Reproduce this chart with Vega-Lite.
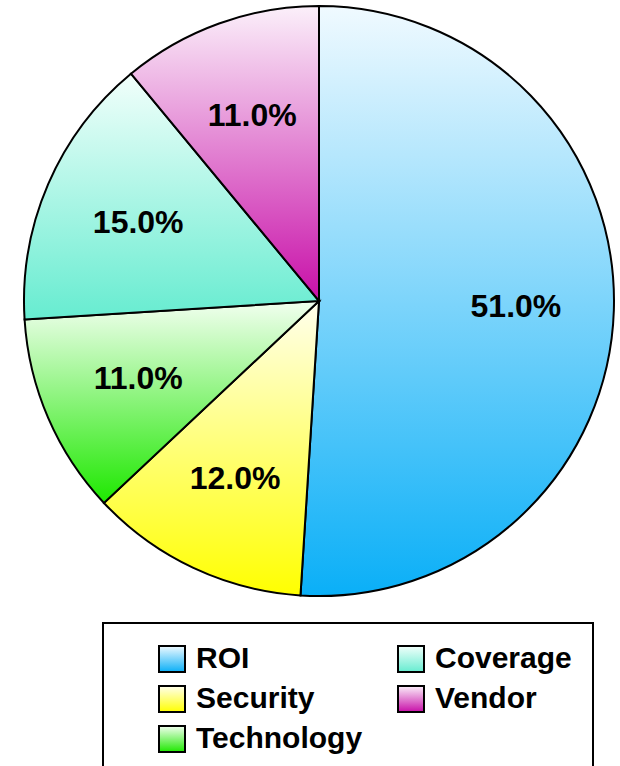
{
  "$schema": "https://vega.github.io/schema/vega-lite/v6.json",
  "width": 638,
  "height": 602,
  "autosize": {"type": "none"},
  "padding": {"left": 0, "top": 0, "right": 0, "bottom": 164},
  "background": "white",
  "data": {"values": [
    {"category": "ROI", "value": 51, "order": 1, "label": "51.0%"},
    {"category": "Security", "value": 12, "order": 2, "label": "12.0%"},
    {"category": "Technology", "value": 11, "order": 3, "label": "11.0%"},
    {"category": "Coverage", "value": 15, "order": 4, "label": "15.0%"},
    {"category": "Vendor", "value": 11, "order": 5, "label": "11.0%"}
  ]},
  "encoding": {
    "theta": {"field": "value", "type": "quantitative", "stack": true},
    "order": {"field": "order", "type": "quantitative"}
  },
  "layer": [
    {
      "mark": {
        "type": "arc",
        "outerRadius": 295,
        "strokeWidth": 2,
        "fill": {"expr": "(datum.category||datum.value)==='ROI' ? {gradient:'linear',x1:0,y1:0,x2:0,y2:1,stops:[{offset:0,color:'#f0faff'},{offset:1,color:'#0aaff7'}]} : (datum.category||datum.value)==='Security' ? {gradient:'linear',x1:0,y1:0,x2:0,y2:1,stops:[{offset:0,color:'#ffffee'},{offset:1,color:'#ffff00'}]} : (datum.category||datum.value)==='Technology' ? {gradient:'linear',x1:0,y1:0,x2:0,y2:1,stops:[{offset:0,color:'#f2fff0'},{offset:1,color:'#1ee800'}]} : (datum.category||datum.value)==='Coverage' ? {gradient:'linear',x1:0,y1:0,x2:0,y2:1,stops:[{offset:0,color:'#f2fffb'},{offset:1,color:'#66ecd0'}]} : {gradient:'linear',x1:0,y1:0,x2:0,y2:1,stops:[{offset:0,color:'#fbf0fa'},{offset:1,color:'#c80fa8'}]}"}
      },
      "encoding": {
        "stroke": {
          "field": "category",
          "type": "nominal",
          "scale": {
            "domain": ["ROI", "Security", "Technology", "Coverage", "Vendor"],
            "range": ["black", "black", "black", "black", "black"]
          },
          "legend": {
            "orient": "none",
            "legendX": 103,
            "legendY": 623,
            "columns": 2,
            "title": null
          }
        }
      }
    },
    {
      "mark": {"type": "text", "radius": 197, "fontSize": 32, "fontWeight": "bold", "font": "Liberation Sans", "color": "black"},
      "encoding": {"text": {"field": "label"}}
    }
  ],
  "config": {
    "view": {"stroke": null},
    "legend": {
      "symbolType": "square",
      "symbolSize": 676,
      "symbolStrokeWidth": 2,
      "symbolOpacity": 1,
      "labelFont": "Liberation Sans",
      "labelFontSize": 30,
      "labelFontWeight": "bold",
      "labelColor": "black",
      "labelLimit": 400,
      "strokeColor": "black",
      "strokeWidth": 2,
      "padding": 21,
      "symbolOffset": 33,
      "labelOffset": 9,
      "columnPadding": 0,
      "rowPadding": 6
    }
  }
}
